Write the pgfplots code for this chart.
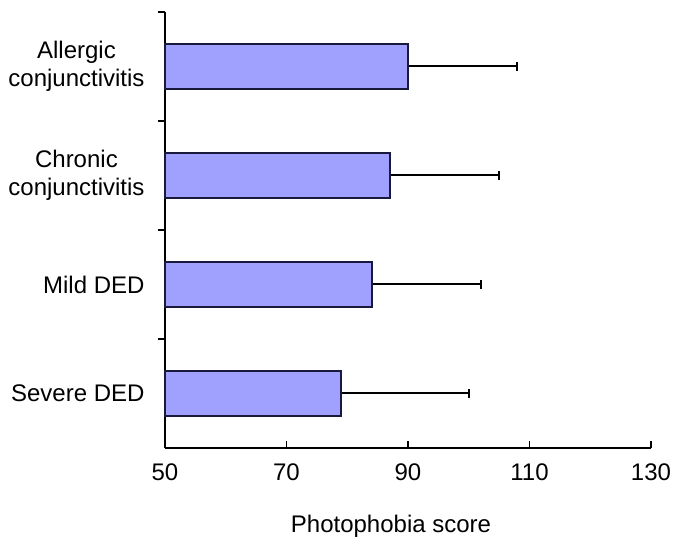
\documentclass[border=0pt]{standalone}
\usepackage{pgfplots}
\pgfplotsset{compat=1.18}
\usepackage{fontspec}
\setmainfont{Liberation Sans}
\definecolor{barfill}{RGB}{160,160,255}
\definecolor{barline}{RGB}{25,25,60}
\pgfplotstableread{
y   mean  err
0   79    21
1   84    18
2   87    18
3   90    18
}\datatable
\begin{document}
\begin{tikzpicture}
\begin{axis}[
  scale only axis,
  width=486pt, height=436pt,
  xmin=50, xmax=130,
  ymin=-0.5, ymax=3.5,
  xtick={50,70,90,110,130},
  ytick={0,1,2,3},
  yticklabels={Severe DED, Mild DED, {Chronic\\conjunctivitis}, {Allergic\\conjunctivitis}},
  minor ytick={0.5,1.5,2.5,3.5},
  axis x line=bottom, axis y line=left,
  axis line style={-, line width=1.8pt, black},
  xtick align=inside,
  ytick align=outside,
  major tick length=7pt,
  minor tick length=7pt,
  y tick style={draw=none},
  minor y tick style={draw=black, line width=1.8pt},
  x tick style={black, line width=1.8pt},
  tick label style={font=\fontsize{24}{28}\selectfont},
  yticklabel style={align=center, xshift=-10pt},
  xticklabel style={yshift=-12pt},
  /pgf/number format/assume math mode=true,
  xlabel={Photophobia score},
  xlabel style={font=\fontsize{24}{28}\selectfont, xshift=-17pt, yshift=-28pt},
  bar width=0.41,
  clip=false,
]
% error bar lines (drawn first, under the bars)
\addplot[black, line width=2pt] coordinates {(79,0) (100,0)};
\addplot[black, line width=2pt] coordinates {(84,1) (102,1)};
\addplot[black, line width=2pt] coordinates {(87,2) (105,2)};
\addplot[black, line width=2pt] coordinates {(90,3) (108,3)};
% caps
\addplot[black, line width=2pt] coordinates {(100,-0.043) (100,0.043)};
\addplot[black, line width=2pt] coordinates {(102,0.957) (102,1.043)};
\addplot[black, line width=2pt] coordinates {(105,1.957) (105,2.043)};
\addplot[black, line width=2pt] coordinates {(108,2.957) (108,3.043)};
% bars
\addplot[xbar, fill=barfill, draw=barline, line width=2pt] table[x=mean, y=y] {\datatable};
\end{axis}
\path (current axis.south west) ++(-165pt,-106pt) coordinate (bbsw);
\path (current axis.north east) ++(24pt,12pt) coordinate (bbne);
\useasboundingbox (bbsw) rectangle (bbne);
\end{tikzpicture}
\end{document}
